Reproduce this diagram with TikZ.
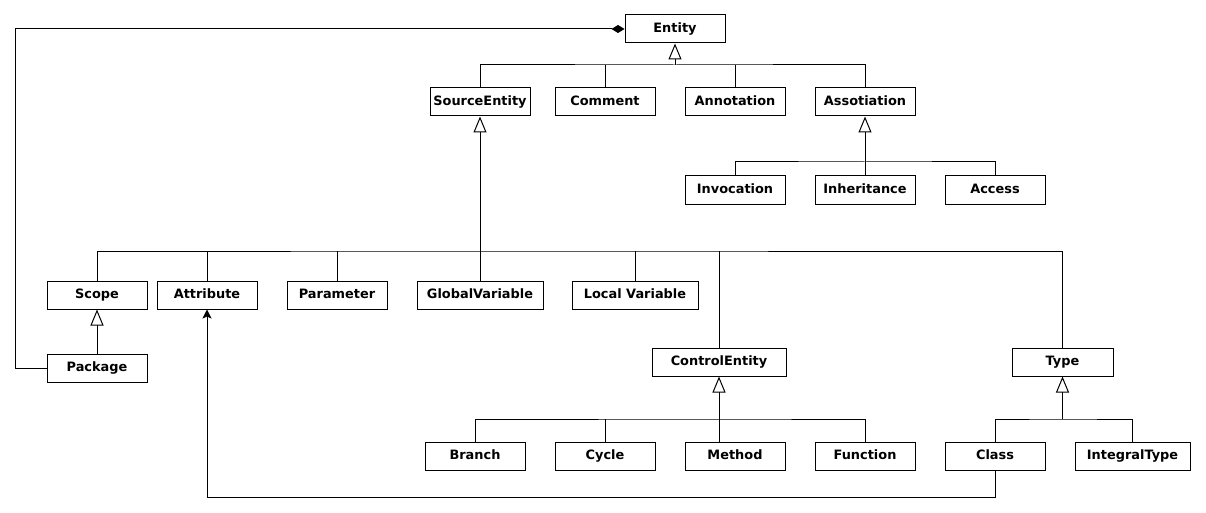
\documentclass[tikz,border=0pt]{standalone}
\usepackage{fontspec}
\setmainfont{DejaVu Sans}
\usetikzlibrary{arrows.meta}
\begin{document}
\begin{tikzpicture}[x=1pt,y=-1pt,line width=1pt,
  cls/.style={draw,fill=white,minimum width=100pt,minimum height=28pt,inner sep=0pt,
    text height=9.5pt,text depth=2.5pt,
    font=\fontsize{12.9}{14}\selectfont\bfseries},
  gen/.style={-{Triangle[open,length=16pt,width=13pt]}},
  comp/.style={{Diamond[length=13pt,width=8pt]}-},
  assoc/.style={-{Stealth[length=9pt,width=9pt,inset=2pt]}}]
\useasboundingbox (0,0) rectangle (1206,513);
% nodes
\node[cls] (Entity) at (675,29) {Entity};
\node[cls] (SourceEntity) at (480,102) {SourceEntity};
\node[cls] (Comment) at (605,102) {Comment};
\node[cls] (Annotation) at (735,102) {Annotation};
\node[cls] (Assotiation) at (865,102) {Assotiation};
\node[cls] (Invocation) at (735,190) {Invocation};
\node[cls] (Inheritance) at (865,190) {Inheritance};
\node[cls] (Access) at (995,190) {Access};
\node[cls] (Scope) at (97,295) {Scope};
\node[cls] (Attribute) at (207,295) {Attribute};
\node[cls] (Parameter) at (337,295) {Parameter};
\node[cls,minimum width=126pt] (GlobalVariable) at (480,295) {GlobalVariable};
\node[cls,minimum width=126pt] (LocalVariable) at (635,295) {Local Variable};
\node[cls] (Package) at (97,368) {Package};
\node[cls,minimum width=134pt] (ControlEntity) at (719,362) {ControlEntity};
\node[cls,minimum width=101pt] (Type) at (1062.5,362) {Type};
\node[cls] (Branch) at (475,456) {Branch};
\node[cls] (Cycle) at (605,456) {Cycle};
\node[cls] (Method) at (735,456) {Method};
\node[cls] (Function) at (865,456) {Function};
\node[cls] (Class) at (995,456) {Class};
\node[cls,minimum width=115pt] (IntegralType) at (1132.5,456) {IntegralType};
% bus coordinates
\coordinate (b1) at (675,65);
\coordinate (b2) at (865,162);
\coordinate (b3) at (480,251);
\coordinate (b4) at (719,419);
\coordinate (b5) at (1062.5,419);
\coordinate (c1) at (15,29);
\coordinate (a1) at (995,497);
% Entity hierarchy
\draw[gen] (b1) -- (Entity.south);
\draw (SourceEntity.north) |- (b1) -| (Assotiation.north);
\draw (Comment.north) -- (Comment.north |- b1);
\draw (Annotation.north) -- (Annotation.north |- b1);
% Assotiation hierarchy
\draw[gen] (b2) -- (Assotiation.south);
\draw (Invocation.north) |- (b2) -| (Access.north);
\draw (Inheritance.north) -- (b2);
% SourceEntity hierarchy
\draw[gen] (b3) -- (SourceEntity.south);
\draw (Scope.north) |- (b3) -| (Type.north);
\draw (GlobalVariable.north) -- (b3);
\draw (Attribute.north) -- (Attribute.north |- b3);
\draw (Parameter.north) -- (Parameter.north |- b3);
\draw (LocalVariable.north) -- (LocalVariable.north |- b3);
\draw (ControlEntity.north) -- (ControlEntity.north |- b3);
% Scope
\draw[gen] (Package.north) -- (Scope.south);
% ControlEntity hierarchy
\draw[gen] (b4) -- (ControlEntity.south);
\draw (Branch.north) |- (b4) -| (Function.north);
\draw (Cycle.north) -- (Cycle.north |- b4);
\draw (Method.north -| b4) -- (b4);
% Type hierarchy
\draw[gen] (b5) -- (Type.south);
\draw (Class.north) |- (b5) -| (IntegralType.north);
% composition
\draw[comp] (Entity.west) -- (c1) |- (Package.west);
% association
\draw[assoc] (Class.south) -- (a1) -| (Attribute.south);
\end{tikzpicture}
\end{document}
